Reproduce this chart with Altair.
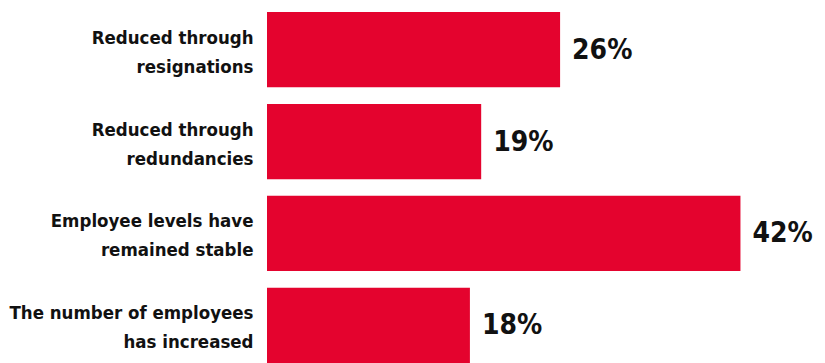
import altair as alt
import pandas as pd

categories = [
    "Reduced through|resignations",
    "Reduced through|redundancies",
    "Employee levels have|remained stable",
    "The number of employees|has increased",
]
values = [26, 19, 42, 18]
value_labels = ["26%", "19%", "42%", "18%"]

df = pd.DataFrame({"cat": categories, "val": values, "lab": value_labels})

FONT = "DejaVu Sans Condensed, Roboto, sans-serif"
RED = "#E4032E"

y_enc = alt.Y(
    "cat:N",
    sort=categories,
    title=None,
    scale=alt.Scale(paddingInner=0.18, paddingOuter=0),
    axis=alt.Axis(
        labelExpr="split(datum.label, '|')",
        labelFont=FONT,
        labelFontSize=18.5,
        labelFontWeight="bold",
        labelColor="#111111",
        labelLineHeight=29,
        labelPadding=14,
        labelOffset=-12,
        labelLimit=300,
        ticks=False,
        domain=False,
        grid=False,
    ),
)
x_enc = alt.X("val:Q", title=None, scale=alt.Scale(domain=[0, 49.5]), axis=None)

bars = alt.Chart(df).mark_bar(color=RED).encode(x=x_enc, y=y_enc)
text = alt.Chart(df).mark_text(
    align="left", baseline="middle", dx=12, dy=1,
    font=FONT, fontSize=28, fontWeight="bold", color="#111111"
).encode(x=x_enc, y=alt.Y("cat:N", sort=categories), text="lab:N")

chart = (
    alt.layer(bars, text)
    .properties(
        width=558,
        height=351,
        autosize=alt.AutoSizeParams(type="none"),
        padding={"left": 267, "top": 12, "right": 0, "bottom": 0},
        view=alt.ViewBackground(stroke="transparent", strokeWidth=0, strokeOpacity=0),
    )
    .configure_view(stroke="transparent", strokeWidth=0, strokeOpacity=0)
    .configure_axis(grid=False, domain=False)
    .configure(background="white")
)

chart.save("out.html", embed_options={"renderer": "svg", "actions": False})
